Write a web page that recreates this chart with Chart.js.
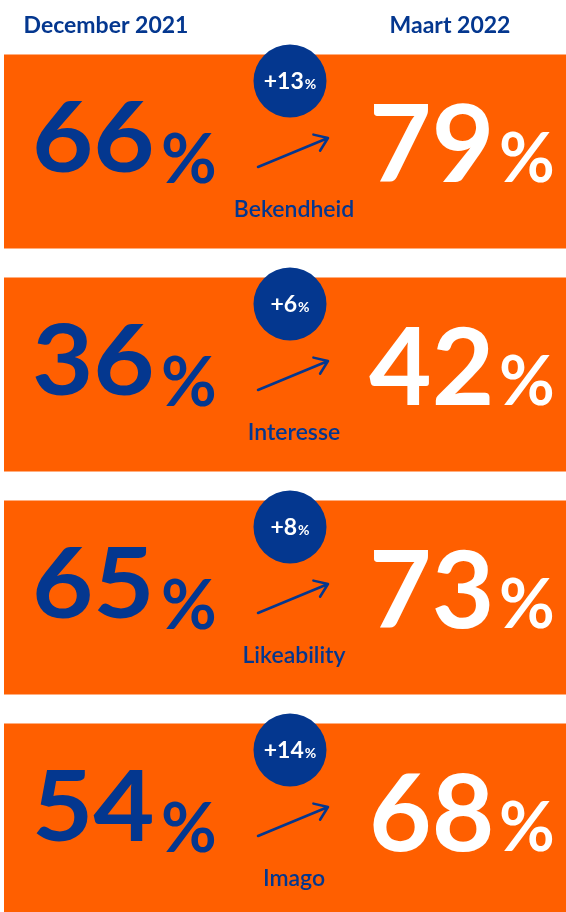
<!DOCTYPE html>
<html>
<head>
<meta charset="utf-8">
<script src="https://cdn.jsdelivr.net/npm/chart.js@4/dist/chart.umd.min.js"></script>
<style>
  html, body { margin: 0; padding: 0; background: #fff; overflow: hidden; }
  #wrap { position: absolute; left: 0; top: 0; width: 566px; height: 932px; }
</style>
</head>
<body>
<div id="wrap"><canvas id="chart"></canvas></div>
<script>
// values
const categories = ['Bekendheid', 'Interesse', 'Likeability', 'Imago'];
const december2021 = [66, 36, 65, 54];
const maart2022 = [79, 42, 73, 68];
const periodLabels = ['December 2021', 'Maart 2022'];

const BLUE = '#04378f';
const ORANGE = '#ff5f00';

// draws the numbers, badges, arrows and labels on top of each orange panel
const infoPlugin = {
    id: 'info',
    afterDatasetsDraw(chart) {
        const ctx = chart.ctx;
        const meta = chart.getDatasetMeta(0);
        ctx.save();

        // period headers
        ctx.fillStyle = BLUE;
        ctx.font = '700 23px Lato';
        ctx.textAlign = 'center';
        ctx.textBaseline = 'alphabetic';
        ctx.fillText(periodLabels[0], 106, 33);
        ctx.fillText(periodLabels[1], 450, 33);

        meta.data.forEach((bar, i) => {
            const cy = bar.y;
            const change = maart2022[i] - december2021[i];
            ctx.textAlign = 'left';

            // left value (december), slightly widened like the original typeface
            ctx.fillStyle = BLUE;
            ctx.font = '700 97px Lato';
            ctx.save();
            ctx.translate(32, cy + 20);
            ctx.scale(1.09, 1);
            ctx.fillText(String(december2021[i]), 0, 0);
            ctx.restore();
            ctx.font = '700 68px Lato';
            ctx.fillText('%', 161, cy + 31);

            // right value (maart)
            ctx.fillStyle = '#ffffff';
            ctx.font = '700 108px Lato';
            ctx.fillText(String(maart2022[i]), 369, cy + 30);
            ctx.font = '700 68px Lato';
            ctx.fillText('%', 499, cy + 30);

            // arrow
            const x1 = 258, y1 = cy + 15.5, x2 = 328, y2 = cy - 13.5;
            ctx.strokeStyle = BLUE;
            ctx.lineWidth = 2.5;
            ctx.lineCap = 'round';
            ctx.lineJoin = 'round';
            ctx.beginPath();
            ctx.moveTo(x1, y1);
            ctx.lineTo(x2, y2);
            const ang = Math.atan2(y2 - y1, x2 - x1);
            const head = 15;
            ctx.moveTo(x2 - head * Math.cos(ang - 0.62), y2 - head * Math.sin(ang - 0.62));
            ctx.lineTo(x2, y2);
            ctx.lineTo(x2 - head * Math.cos(ang + 0.62), y2 - head * Math.sin(ang + 0.62));
            ctx.stroke();

            // category label
            ctx.fillStyle = BLUE;
            ctx.textAlign = 'center';
            ctx.font = '600 23px Lato';
            ctx.fillText(categories[i], 294, cy + 65.5);

            // change badge
            const bx = 290, by = cy - 70.5;
            ctx.beginPath();
            ctx.arc(bx, by, 36.5, 0, Math.PI * 2);
            ctx.fillStyle = BLUE;
            ctx.fill();
            ctx.fillStyle = '#ffffff';
            ctx.font = '700 23px Lato';
            const t1 = '+' + change;
            const w1 = ctx.measureText(t1).width;
            ctx.font = '700 14px Lato';
            const w2 = ctx.measureText('%').width;
            const start = bx - (w1 + w2 + 1) / 2;
            ctx.textAlign = 'left';
            ctx.font = '700 23px Lato';
            ctx.fillText(t1, start, by + 8);
            ctx.font = '700 14px Lato';
            ctx.fillText('%', start + w1 + 1, by + 8);
        });
        ctx.restore();
    }
};

new Chart(document.getElementById('chart'), {
    type: 'bar',
    data: {
        labels: categories,
        datasets: [{
            label: 'panel',
            data: categories.map(() => [0, 100]),
            backgroundColor: ORANGE,
            borderWidth: 0,
            barPercentage: 1,
            categoryPercentage: 0.87
        }]
    },
    options: {
        indexAxis: 'y',
        responsive: true,
        maintainAspectRatio: false,
        animation: false,
        layout: { padding: { left: 4, right: 0, top: 40, bottom: 0 } },
        scales: {
            x: { display: false, min: 0, max: 100 },
            y: { display: false }
        },
        plugins: {
            legend: { display: false },
            tooltip: { enabled: false }
        }
    },
    plugins: [infoPlugin]
});
</script>
</body>
</html>
